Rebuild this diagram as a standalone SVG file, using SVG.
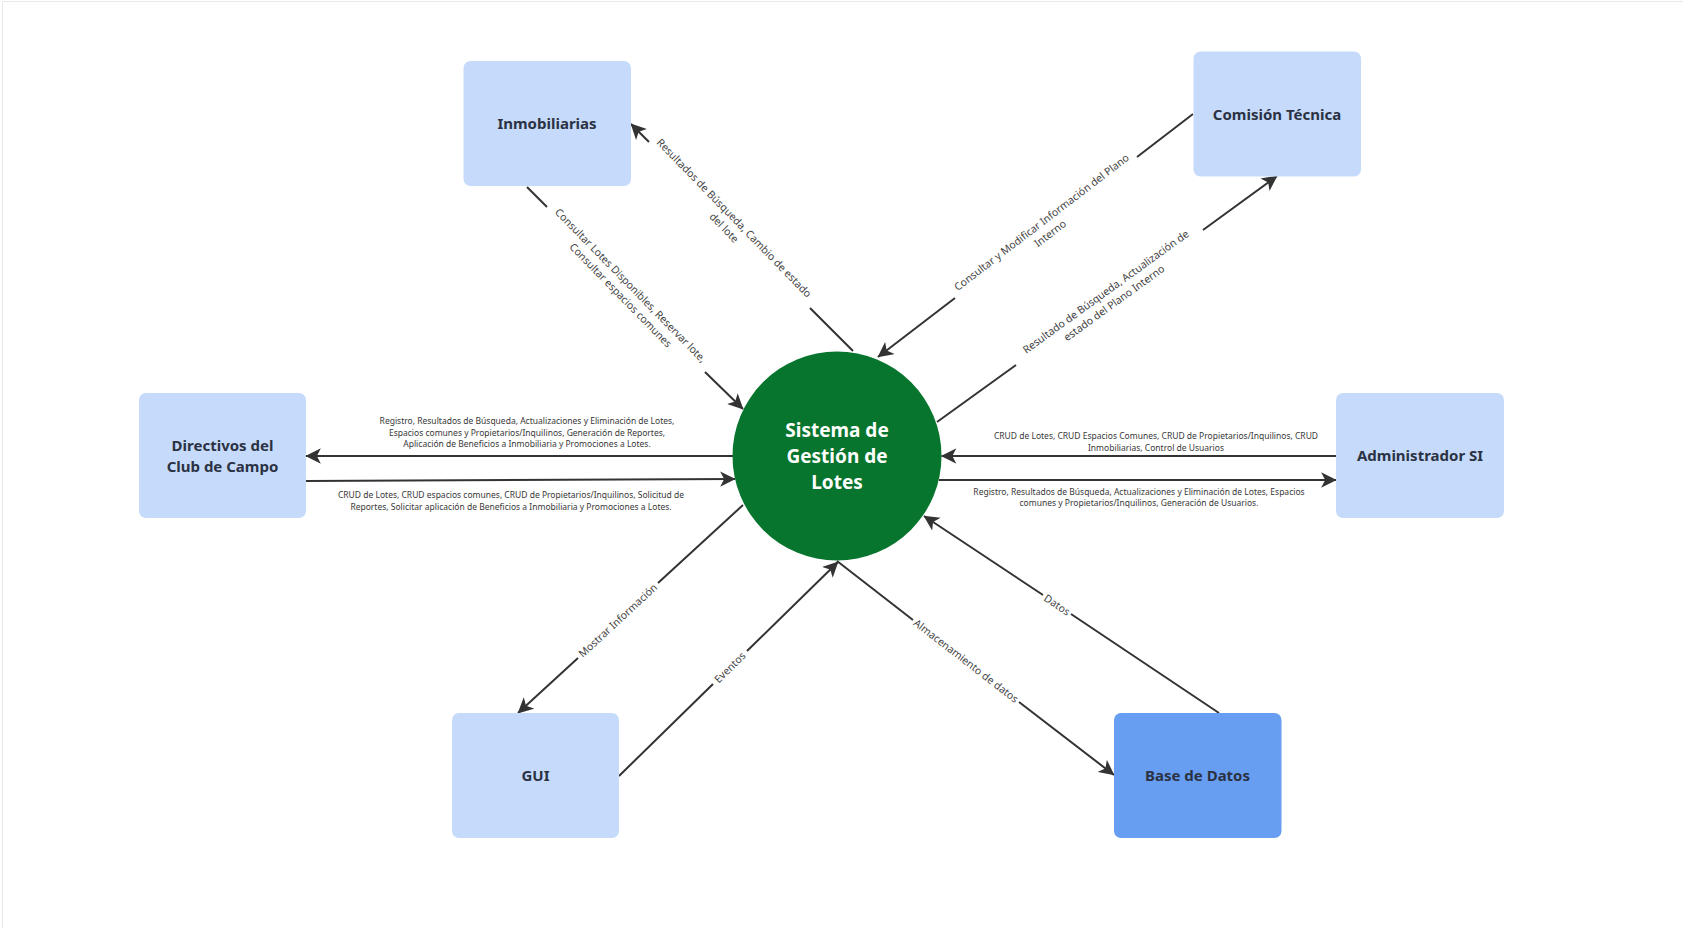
<svg xmlns="http://www.w3.org/2000/svg" width="1683" height="928" viewBox="0 0 1683 928">
  <style>
    .box { fill: #c6dbfb; }
    .box-dark { fill: #679ef2; }
    .node-label { font-family: "Noto Sans", "Open Sans", sans-serif; font-weight: 700; font-size: 15px; fill: #2b3243; text-anchor: middle; }
    .hub-label { font-family: "Noto Sans", "Open Sans", sans-serif; font-weight: 700; font-size: 19px; fill: #ffffff; text-anchor: middle; }
    .flow { fill: none; stroke: #333333; stroke-width: 2; marker-end: url(#arrow); }
    .flow-label { font-family: "Noto Sans", "Open Sans", sans-serif; font-size: 10.5px; fill: #444444; text-anchor: middle; }
    .flow-label-sm { font-family: "Noto Sans", "Open Sans", sans-serif; font-size: 8.5px; fill: #383838; text-anchor: middle; }
  </style>
  <defs>
    <marker id="arrow" markerUnits="userSpaceOnUse" markerWidth="16" markerHeight="16" viewBox="0 0 14 14" refX="13" refY="7" orient="auto">
      <path d="M0,0.3 L13.5,7 L0,13.7 L3.5,7 Z" fill="#333333"/>
    </marker>
  </defs>

  <rect x="0" y="0" width="1683" height="928" fill="#ffffff"/>
  <path d="M2.5,928 V1.5 H1683" fill="none" stroke="#e9e9e9" stroke-width="1"/>

  <!-- data flows -->
  <g id="connectors">
    <!-- Inmobiliarias -> Sistema -->
    <path class="flow" d="M527,187 L547,207 M705,372 L743,409"/>
    <!-- Sistema -> Inmobiliarias -->
    <path class="flow" d="M853,351 L810,308 M649,142 L631,124"/>
    <!-- Comision Tecnica -> Sistema -->
    <path class="flow" d="M1193,114 L1137,157 M955,298 L878,357"/>
    <!-- Sistema -> Comision Tecnica -->
    <path class="flow" d="M937,422 L1016,365 M1203,230 L1277,176"/>
    <!-- Sistema -> Directivos -->
    <path class="flow" d="M733,456 L306,456"/>
    <!-- Directivos -> Sistema -->
    <path class="flow" d="M306,481 L735,479"/>
    <!-- Administrador -> Sistema -->
    <path class="flow" d="M1336,456 L941.5,456"/>
    <!-- Sistema -> Administrador -->
    <path class="flow" d="M939,480 L1336,480"/>
    <!-- Sistema -> GUI -->
    <path class="flow" d="M743,505 L658,583 M578,658 L518,713"/>
    <!-- GUI -> Sistema -->
    <path class="flow" d="M619,776 L713,684 M747,651 L838,562"/>
    <!-- Sistema -> Base de Datos -->
    <path class="flow" d="M837,561 L913,620 M1019,702 L1114,775"/>
    <!-- Base de Datos -> Sistema -->
    <path class="flow" d="M1219,713 L1071,614 M1043,595 L924,516"/>

    <!-- flow labels -->
    <g transform="translate(625.5,290.5) rotate(45.6)">
      <text class="flow-label" x="0" y="-3.5">Consultar Lotes Disponibles, Reservar lote,</text>
      <text class="flow-label" x="0" y="10.5">Consultar espacios comunes</text>
    </g>
    <g transform="translate(729,223) rotate(45.8)">
      <text class="flow-label" x="0" y="-3.5">Resultados de Búsqueda, Cambio de estado</text>
      <text class="flow-label" x="0" y="10.5">del lote</text>
    </g>
    <g transform="translate(1046,228) rotate(-37.5)">
      <text class="flow-label" x="0" y="-3.5">Consultar y Modificar Información del Plano</text>
      <text class="flow-label" x="0" y="10.5">Interno</text>
    </g>
    <g transform="translate(1110,297.5) rotate(-35.9)">
      <text class="flow-label" x="0" y="-3.5">Resultado de Búsqueda, Actualización de</text>
      <text class="flow-label" x="0" y="10.5">estado del Plano Interno</text>
    </g>
    <g transform="translate(618,620.5) rotate(-42.8)">
      <text class="flow-label" x="0" y="3.6">Mostrar Información</text>
    </g>
    <g transform="translate(730,667.5) rotate(-44.4)">
      <text class="flow-label" x="0" y="3.6">Eventos</text>
    </g>
    <g transform="translate(966,661) rotate(37.7)">
      <text class="flow-label" x="0" y="3.6">Almacenamiento de datos</text>
    </g>
    <g transform="translate(1057,605) rotate(33.7)">
      <text class="flow-label" x="0" y="3.6">Datos</text>
    </g>

    <text class="flow-label-sm" x="527" y="424">Registro, Resultados de Búsqueda, Actualizaciones y Eliminación de Lotes,</text>
    <text class="flow-label-sm" x="527" y="435.7">Espacios comunes y Propietarios/Inquilinos, Generación de Reportes,</text>
    <text class="flow-label-sm" x="527" y="447.4">Aplicación de Beneficios a Inmobiliaria y Promociones a Lotes.</text>

    <text class="flow-label-sm" x="511" y="498">CRUD de Lotes, CRUD espacios comunes, CRUD de Propietarios/Inquilinos, Solicitud de</text>
    <text class="flow-label-sm" x="511" y="509.7">Reportes, Solicitar aplicación de Beneficios a Inmobiliaria y Promociones a Lotes.</text>

    <text class="flow-label-sm" x="1156" y="439">CRUD de Lotes, CRUD Espacios Comunes, CRUD de Propietarios/Inquilinos, CRUD</text>
    <text class="flow-label-sm" x="1156" y="450.5">Inmobiliarias, Control de Usuarios</text>

    <text class="flow-label-sm" x="1139" y="494.7">Registro, Resultados de Búsqueda, Actualizaciones y Eliminación de Lotes, Espacios</text>
    <text class="flow-label-sm" x="1139" y="506.2">comunes y Propietarios/Inquilinos, Generación de Usuarios.</text>
  </g>

  <!-- central process -->
  <g id="sistema">
    <circle cx="837" cy="456" r="104.5" fill="#07752d"/>
    <text class="hub-label" x="837" y="437">Sistema de</text>
    <text class="hub-label" x="837" y="463">Gestión de</text>
    <text class="hub-label" x="837" y="488.5">Lotes</text>
  </g>

  <!-- external entities -->
  <g id="inmobiliarias">
    <rect class="box" x="463.5" y="61" width="167.5" height="125" rx="7"/>
    <text class="node-label" x="547" y="129">Inmobiliarias</text>
  </g>
  <g id="comision-tecnica">
    <rect class="box" x="1193.5" y="51.5" width="167.5" height="125" rx="7"/>
    <text class="node-label" x="1277" y="119.5">Comisión Técnica</text>
  </g>
  <g id="directivos">
    <rect class="box" x="139" y="393" width="167" height="125" rx="7"/>
    <text class="node-label" x="222.5" y="450.5">Directivos del</text>
    <text class="node-label" x="222.5" y="471.5">Club de Campo</text>
  </g>
  <g id="administrador">
    <rect class="box" x="1336" y="393" width="168" height="125" rx="7"/>
    <text class="node-label" x="1420" y="461">Administrador SI</text>
  </g>
  <g id="gui">
    <rect class="box" x="452" y="713" width="167" height="125" rx="7"/>
    <text class="node-label" x="535.5" y="780.5">GUI</text>
  </g>
  <g id="base-de-datos">
    <rect class="box-dark" x="1114" y="713" width="167.5" height="125" rx="7"/>
    <text class="node-label" x="1197.5" y="780.5">Base de Datos</text>
  </g>
</svg>
